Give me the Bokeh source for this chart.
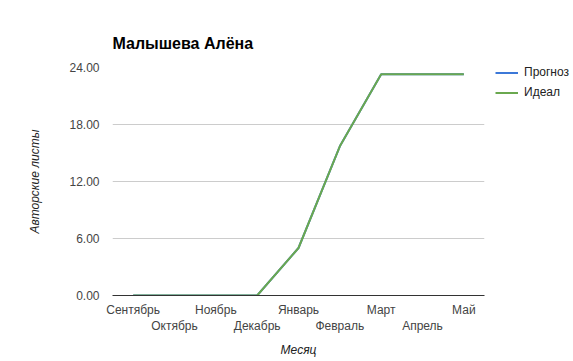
from bokeh.plotting import figure
from bokeh.models import (Range1d, FixedTicker, LinearAxis, Legend, LegendItem,
                          NumeralTickFormatter, ColumnDataSource)
from bokeh.embed import file_html
from bokeh.resources import INLINE

months = ["Сентябрь", "Октябрь", "Ноябрь", "Декабрь", "Январь",
          "Февраль", "Март", "Апрель", "Май"]
forecast = [0, 0, 0, 0, 5.0, 15.7, 23.3, 23.3, 23.3]
ideal = [0, 0, 0, 0, 5.0, 15.7, 23.3, 23.3, 23.3]
y_ticks = [0, 6, 12, 18, 24]

FONT = "Liberation Sans"
x_idx = list(range(len(months)))
src = ColumnDataSource(dict(x=x_idx, forecast=forecast, ideal=ideal))

p = figure(frame_width=372, frame_height=228, output_backend="svg", toolbar_location=None,
           x_range=Range1d(-0.5, len(months) - 0.5), y_range=Range1d(0, 24),
           x_axis_location=None, min_border_left=112, min_border_right=89,
           min_border_top=67, min_border_bottom=58)
p.outline_line_color = None
p.background_fill_color = "white"
p.border_fill_color = "white"

p.title.text = "Малышева Алёна"
p.title.text_font = FONT
p.title.text_font_size = "16px"
p.title.text_font_style = "bold"
p.title.text_color = "#000000"
p.title.align = "left"
p.title.offset = 0
p.title.standoff = 31

# y axis
ya = p.yaxis[0]
ya.ticker = FixedTicker(ticks=y_ticks)
ya.formatter = NumeralTickFormatter(format="0.00")
ya.axis_line_color = None
ya.major_tick_line_color = None
ya.minor_tick_line_color = None
ya.major_tick_out = 0
ya.major_tick_in = 0
ya.minor_tick_out = 0
ya.major_label_text_font = FONT
ya.major_label_text_font_size = "12px"
ya.major_label_text_color = "#444444"
ya.major_label_standoff = 13
ya.axis_label = "Авторские листы"
ya.axis_label_text_font = FONT
ya.axis_label_text_font_size = "12px"
ya.axis_label_text_font_style = "italic"
ya.axis_label_text_color = "#222222"
ya.axis_label_standoff = 24

p.ygrid.ticker = FixedTicker(ticks=y_ticks)
p.ygrid.grid_line_color = "#cccccc"
p.xgrid.grid_line_color = None

# x axes: two rows of labels
even = [i for i in x_idx if i % 2 == 0]
odd = [i for i in x_idx if i % 2 == 1]
xa1 = LinearAxis(ticker=FixedTicker(ticks=even),
                 major_label_overrides={i: months[i] for i in even})
xa2 = LinearAxis(ticker=FixedTicker(ticks=odd),
                 major_label_overrides={i: months[i] for i in odd})
for ax in (xa1, xa2):
    ax.major_tick_line_color = None
    ax.minor_tick_line_color = None
    ax.major_tick_out = 0
    ax.major_tick_in = 0
    ax.minor_tick_out = 0
    ax.major_label_text_font = FONT
    ax.major_label_text_font_size = "12px"
    ax.major_label_text_color = "#444444"
xa1.axis_line_color = "#333333"
xa1.major_label_standoff = 7
xa2.axis_line_color = None
xa2.major_label_standoff = -1
xa2.axis_label = "Месяц"
xa2.axis_label_text_font = FONT
xa2.axis_label_text_font_size = "12px"
xa2.axis_label_text_font_style = "italic"
xa2.axis_label_text_color = "#222222"
xa2.axis_label_standoff = 7
p.add_layout(xa1, "below")
p.add_layout(xa2, "below")

r1 = p.line("x", "forecast", source=src, line_color="#3c78d8", line_width=2)
r2 = p.line("x", "ideal", source=src, line_color="#6aa84f", line_width=2)

legend = Legend(items=[LegendItem(label="Прогноз", renderers=[r1]),
                       LegendItem(label="Идеал", renderers=[r2])],
                location=(11, 196))
legend.label_text_font = FONT
legend.label_text_font_size = "12px"
legend.label_text_color = "#222222"
legend.glyph_width = 23
legend.glyph_height = 13
legend.label_height = 13
legend.label_standoff = 6
legend.spacing = 6
legend.padding = 0
legend.margin = 0
legend.border_line_color = None
legend.background_fill_alpha = 0
p.add_layout(legend, "right")

open("out.html", "w").write(file_html(p, INLINE))
